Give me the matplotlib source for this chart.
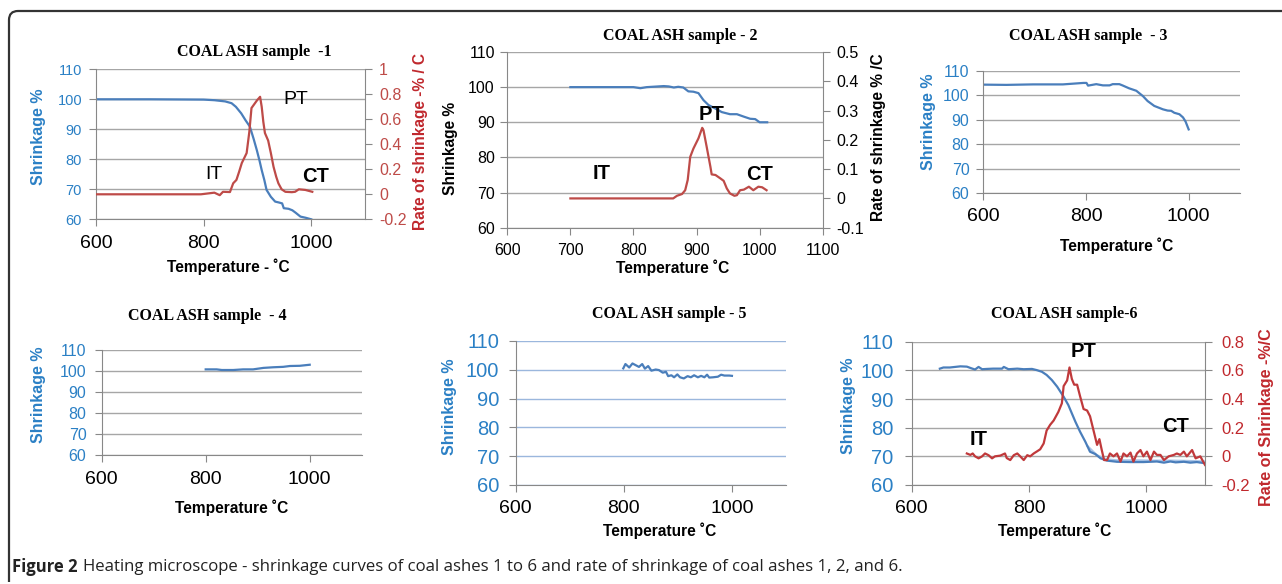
import numpy as np
import matplotlib
matplotlib.use('Agg')
import matplotlib.pyplot as plt
from matplotlib.path import Path
from matplotlib.patches import PathPatch

# ---- data ----
t1 = [600, 700, 800, 820, 840, 852, 860, 870, 878, 886, 893, 899, 904, 908, 913, 917, 925, 933, 940, 946, 949, 958, 965, 971, 980, 990, 1000]
s1 = [100, 100, 99.9, 99.7, 99.3, 98.7, 97.5, 95.3, 93.0, 90.9, 86.8, 83.0, 79.5, 76.4, 73.0, 69.8, 67.5, 65.9, 65.6, 65.3, 63.7, 63.5, 63.0, 62.2, 60.9, 60.5, 60.0]
r1t = [600, 700, 795, 820, 830, 836, 849, 855, 861, 866, 871, 880, 885, 889, 894, 899, 905, 908, 911, 914, 920, 925, 930, 935, 939, 945, 952, 964, 970, 977, 989, 1002]
r1 = [0, 0, 0, 0.013, -0.007, 0.02, 0.018, 0.088, 0.115, 0.18, 0.25, 0.33, 0.5, 0.69, 0.72, 0.75, 0.78, 0.7, 0.58, 0.49, 0.43, 0.33, 0.22, 0.14, 0.088, 0.04, 0.02, 0.017, 0.02, 0.04, 0.035, 0.02]

t2 = [700, 800, 811, 821, 848, 856, 864, 871, 879, 887, 895, 903, 911, 919, 930, 940, 953, 964, 975, 985, 993, 1000, 1012]
s2 = [100, 100, 99.7, 100, 100.3, 100.2, 99.9, 100.1, 99.9, 98.8, 98.7, 98.3, 96.3, 94.9, 93.9, 92.9, 92.3, 92.3, 91.6, 91.0, 90.9, 90.0, 90.0]
r2t = [700, 863, 869, 877, 882, 886, 890, 895, 903, 909, 911, 916, 922, 924, 930, 938, 943, 948, 953, 960, 964, 969, 975, 983, 990, 998, 1004, 1011]
r2 = [0, 0, 0.009, 0.015, 0.028, 0.063, 0.142, 0.17, 0.205, 0.241, 0.233, 0.177, 0.108, 0.082, 0.08, 0.068, 0.06, 0.034, 0.017, 0.009, 0.011, 0.028, 0.03, 0.04, 0.028, 0.04, 0.038, 0.028]

t3 = [600, 645, 697, 755, 795, 801, 804, 820, 833, 846, 852, 865, 871, 884, 898, 911, 920, 933, 950, 959, 966, 972, 982, 989, 994, 1000]
s3 = [104.3, 104.2, 104.4, 104.4, 105.0, 105.0, 103.9, 104.5, 104.0, 104.0, 104.5, 104.5, 104.0, 102.8, 101.8, 99.6, 97.6, 95.6, 94.2, 93.7, 93.6, 92.8, 92.2, 90.9, 89.2, 86.0]

t4 = [800, 821, 831, 853, 872, 891, 911, 930, 949, 962, 981, 1000]
s4 = [100.8, 100.8, 100.5, 100.5, 100.8, 100.8, 101.5, 101.8, 102.0, 102.4, 102.5, 103.0]

t5 = [799, 803, 810, 816, 822, 828, 834, 839, 845, 851, 859, 865, 872, 878, 882, 888, 893, 899, 904, 911, 918, 924, 930, 937, 943, 949, 954, 958, 965, 974, 980, 986, 995, 1000]
s5 = [100.5, 102.0, 100.8, 102.2, 101.6, 101.0, 102.0, 100.4, 101.3, 99.7, 100.1, 99.9, 99.0, 99.3, 97.8, 98.1, 97.4, 98.4, 97.4, 97.0, 97.8, 97.4, 98.1, 97.4, 97.9, 97.4, 98.3, 97.3, 97.4, 97.6, 98.3, 98.0, 98.0, 97.9]

t6 = [648, 654, 665, 683, 694, 702, 708, 714, 720, 728, 739, 754, 757, 765, 780, 791, 805, 813, 822, 830, 839, 848, 859, 867, 873, 879, 887, 896, 904, 913, 922, 933, 950, 973, 995, 1018, 1030, 1041, 1050, 1064, 1075, 1086, 1100]
s6 = [100.6, 101.0, 101.0, 101.4, 101.3, 100.7, 100.3, 101.2, 100.4, 100.5, 100.6, 100.6, 101.2, 100.4, 100.6, 100.4, 100.5, 100.1, 99.5, 98.4, 96.6, 94.3, 90.8, 87.9, 85.0, 82.1, 78.6, 75.1, 71.6, 70.8, 69.3, 68.5, 68.1, 68.0, 68.0, 68.2, 67.8, 68.2, 67.9, 68.1, 67.8, 68.0, 67.6]
t6b = [900, 915, 930, 950, 980, 1010, 1040, 1070, 1100]
s6b = [73.5, 70.5, 69.0, 68.6, 68.6, 68.5, 68.5, 68.4, 68.2]
r6t = [694, 700, 704, 708, 714, 720, 725, 731, 737, 742, 751, 759, 762, 768, 774, 780, 785, 791, 797, 802, 808, 813, 819, 825, 830, 836, 842, 850, 856, 859, 865, 869, 873, 877, 882, 887, 893, 899, 904, 910, 916, 920, 924, 928, 933, 938, 944, 950, 956, 961, 967, 973, 978, 984, 990, 995, 1001, 1007, 1013, 1018, 1024, 1030, 1038, 1047, 1052, 1058, 1064, 1069, 1078, 1084, 1092, 1100]
r6 = [0.02, 0.01, 0.02, 0, -0.014, 0.0, 0.02, 0.008, -0.014, 0.0, 0.005, 0.02, -0.012, -0.026, 0.008, 0.02, 0.0, -0.026, 0.008, 0.0, 0.02, 0.033, 0.049, 0.09, 0.18, 0.22, 0.25, 0.31, 0.37, 0.49, 0.53, 0.62, 0.54, 0.5, 0.5, 0.42, 0.33, 0.32, 0.28, 0.18, 0.08, 0.12, 0.044, -0.026, -0.026, 0.02, 0.0, 0.02, -0.037, 0.02, 0.0, 0.026, -0.037, 0.02, 0.044, 0.0, 0.033, -0.026, 0.033, 0.01, 0.01, -0.026, 0.0, 0.01, 0.02, 0.01, 0.033, 0.0, 0.044, -0.014, 0.0, -0.06]

x_ticks = [600, 800, 1000]
x_ticks2 = [600, 700, 800, 900, 1000, 1100]
y_ticks = [60, 70, 80, 90, 100, 110]

W, H = 1282, 584
BLUE = '#4A7EBB'
LBLUE = '#A9C4E6'
RED = '#BE4B48'
TBLUE = '#2B80C5'
TRED = '#C0282D'
GRID = '#A6A6A6'
SANS = 'Liberation Sans'
SERIF = 'Liberation Serif'

plt.rcParams['font.family'] = SANS

fig = plt.figure(figsize=(W / 100, H / 100), dpi=100)


def px_axes(l, t, r, b):
    return fig.add_axes([l / W, 1 - b / H, (r - l) / W, (b - t) / H])


def ftext(x, y, s, **kw):
    kw.setdefault('ha', 'center')
    kw.setdefault('va', 'center')
    fig.text(x / W, 1 - y / H, s, **kw)


def style(ax, xt, xfs, yfs, ycol, gridcol=GRID, ypad=4, right_spine=False):
    ax.set_xlim(600, 1100)
    ax.set_ylim(60, 110)
    ax.set_xticks(xt)
    ax.set_yticks(y_ticks)
    ax.tick_params(axis='x', labelsize=xfs, length=5, color='#888888', pad=6)
    ax.tick_params(axis='y', labelsize=yfs, labelcolor=ycol, length=5, color='#888888', pad=ypad)
    ax.yaxis.grid(True, color=gridcol, lw=1)
    ax.set_axisbelow(True)
    ax.spines['top'].set_visible(False)
    ax.spines['right'].set_visible(right_spine)
    for sp in ['left', 'bottom', 'right']:
        ax.spines[sp].set_color('#888888')


def rate_axis(ax, lo, hi, step, fs, col, pad=5):
    ax2 = ax.twinx()
    ax2.set_ylim(lo, hi)
    ticks = np.round(np.arange(lo, hi + step / 2, step), 2)
    ax2.set_yticks(ticks)
    ax2.set_yticklabels(['0' if abs(v) < 1e-9 else ('1' if v == 1 else f'{v:g}') for v in ticks])
    ax2.tick_params(axis='y', labelsize=fs, labelcolor=col, length=5, color='#888888', pad=pad)
    for sp in ['top', 'left', 'bottom']:
        ax2.spines[sp].set_visible(False)
    ax2.spines['right'].set_color('#888888')
    return ax2


TFS = 11.5   # panel title size
LFS = 11.2   # axis label size

# ---- panel 1 ----
ax = px_axes(96, 69.3, 365, 219.3)
style(ax, x_ticks, 14, 10.5, TBLUE, ypad=5)
ax.plot(t1, s1, color=BLUE, lw=1.6)
a2 = rate_axis(ax, -0.2, 1.0, 0.2, 11.5, RED, pad=5)
a2.plot(r1t, r1, color=RED, lw=1.6)
ax.text(972, 99.8, 'PT', fontsize=14, ha='center', va='center')
ax.text(819, 74.8, 'IT', fontsize=14, ha='center', va='center')
ax.text(1008, 74.2, 'CT', fontsize=14.5, fontweight='bold', ha='center', va='center')
ftext(254, 52, 'COAL ASH sample  -1', family=SERIF, fontweight='bold', fontsize=TFS)
ftext(228, 267, 'Temperature - \u02daC', fontweight='bold', fontsize=LFS)
ftext(38, 137, 'Shrinkage %', fontweight='bold', fontsize=11.5, color=TBLUE, rotation=90)
ftext(420, 142, 'Rate of shrinkage -% / C', fontweight='bold', fontsize=11.2, color=TRED, rotation=90)

# ---- panel 2 ----
ax = px_axes(507.3, 52, 822.7, 227.7)
style(ax, x_ticks2, 11.5, 11.5, 'black', ypad=4)
ax.plot(t2, s2, color=BLUE, lw=1.6)
a2 = rate_axis(ax, -0.1, 0.5, 0.1, 11.5, 'black', pad=5)
a2.plot(r2t, r2, color=RED, lw=1.6)
ax.text(750, 75.5, 'IT', fontsize=14.5, fontweight='bold', ha='center', va='center')
ax.text(924, 92.1, 'PT', fontsize=14.5, fontweight='bold', ha='center', va='center')
ax.text(1000, 75, 'CT', fontsize=14.5, fontweight='bold', ha='center', va='center')
ftext(680, 36, 'COAL ASH sample - 2', family=SERIF, fontweight='bold', fontsize=TFS)
ftext(673, 268, 'Temperature \u02daC', fontweight='bold', fontsize=LFS)
ftext(451, 148, 'Shrinkage %', fontweight='bold', fontsize=11.2, rotation=90)
ftext(878, 137, 'Rate of shrinkage % /C', fontweight='bold', fontsize=11.2, rotation=90)

# ---- panel 3 ----
ax = px_axes(983.3, 70.7, 1240, 193)
style(ax, x_ticks, 14, 11.5, TBLUE, ypad=5)
ax.plot(t3, s3, color=BLUE, lw=1.6)
ftext(1088, 36, 'COAL ASH sample  - 3', family=SERIF, fontweight='bold', fontsize=TFS)
ftext(1117, 246, 'Temperature \u02daC', fontweight='bold', fontsize=LFS)
ftext(929, 122, 'Shrinkage %', fontweight='bold', fontsize=11.5, color=TBLUE, rotation=90)

# ---- panel 4 ----
ax = px_axes(101.7, 350, 361.7, 455.3)
style(ax, x_ticks, 14, 11.5, TBLUE, ypad=6)
ax.plot(t4, s4, color=BLUE, lw=1.6)
ftext(207, 316, 'COAL ASH sample  - 4', family=SERIF, fontweight='bold', fontsize=TFS)
ftext(232, 508, 'Temperature \u02daC', fontweight='bold', fontsize=LFS)
ftext(38, 395, 'Shrinkage %', fontweight='bold', fontsize=11.5, color=TBLUE, rotation=90)

# ---- panel 5 ----
ax = px_axes(515.7, 341, 786, 485)
style(ax, x_ticks, 14, 14.5, TBLUE, gridcol='#9BB7DD', ypad=7)
ax.plot(t5, s5, color=BLUE, lw=1.6)
ftext(669, 314, 'COAL ASH sample - 5', family=SERIF, fontweight='bold', fontsize=TFS)
ftext(660, 531, 'Temperature \u02daC', fontweight='bold', fontsize=LFS)
ftext(450, 407, 'Shrinkage %', fontweight='bold', fontsize=11.5, color=TBLUE, rotation=90)

# ---- panel 6 ----
ax = px_axes(911.7, 341.7, 1205, 485)
style(ax, x_ticks, 14, 14.5, TBLUE, ypad=8)
ax.plot(t6b, s6b, color=LBLUE, lw=1.6)
ax.plot(t6, s6, color=BLUE, lw=1.6)
a2 = rate_axis(ax, -0.2, 0.8, 0.2, 12, TRED, pad=7)
a2.plot(r6t, r6, color='#C0393B', lw=1.6)
ax.text(893, 106.5, 'PT', fontsize=14.5, fontweight='bold', ha='center', va='center')
ax.text(714, 75.9, 'IT', fontsize=14.5, fontweight='bold', ha='center', va='center')
ax.text(1050, 80.3, 'CT', fontsize=14.5, fontweight='bold', ha='center', va='center')
ftext(1064, 314, 'COAL ASH sample-6', family=SERIF, fontweight='bold', fontsize=TFS)
ftext(1055, 531, 'Temperature \u02daC', fontweight='bold', fontsize=LFS)
ftext(849, 406, 'Shrinkage %', fontweight='bold', fontsize=11.5, color=TBLUE, rotation=90)
ftext(1267, 417, 'Rate of Shrinkage -%/C', fontweight='bold', fontsize=11.6, color=TRED, rotation=90)

# ---- frame with rounded corner ----
r = 9
verts = [(9, 582), (9, 11 + r), (9, 11), (9 + r, 11), (W, 11)]
codes = [Path.MOVETO, Path.LINETO, Path.CURVE3, Path.CURVE3, Path.LINETO]
verts = [(x / W, 1 - y / H) for x, y in verts]
fig.patches.append(PathPatch(Path(verts, codes), fill=False, lw=1.6, ec='#333333',
                             transform=fig.transFigure))

# ---- caption ----
fig.text(12 / W, 1 - 567 / H, 'Figure 2', family='Open Sans', fontweight='bold',
         fontsize=12, va='center', ha='left', color='#222222')
fig.text(83 / W, 1 - 567 / H,
         'Heating microscope - shrinkage curves of coal ashes 1 to 6 and rate of shrinkage of coal ashes 1, 2, and 6.',
         family='Open Sans', fontsize=12.1, va='center', ha='left', color='#222222')

fig.savefig('out.png', dpi=100)
